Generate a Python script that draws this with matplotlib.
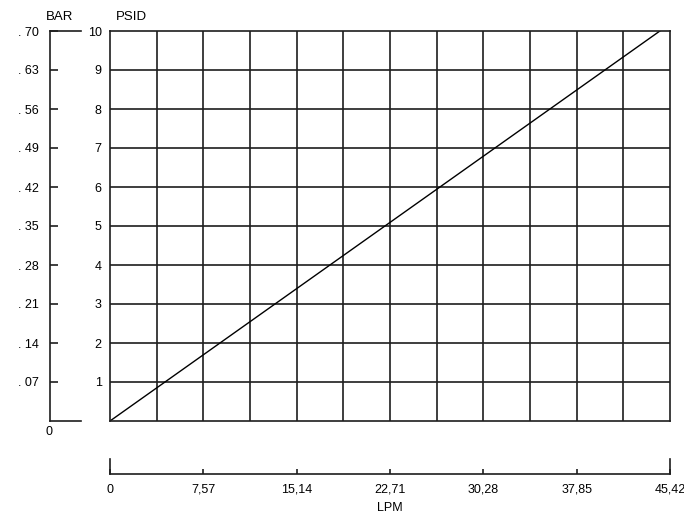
import matplotlib
matplotlib.use("Agg")
import numpy as np
from matplotlib import pyplot as plt

plt.rcParams["font.family"] = ["Liberation Sans", "DejaVu Sans"]
plt.rcParams["font.size"] = 9

# data
lpm_line = [0, 44.6]
psid_line = [0, 10]
psid_ticks = [1, 2, 3, 4, 5, 6, 7, 8, 9, 10]
bar_ticks = [0.07, 0.14, 0.21, 0.28, 0.35, 0.42, 0.49, 0.56, 0.63, 0.70]
bar_labels = [". 07", ". 14", ". 21", ". 28", ". 35", ". 42", ". 49", ". 56", ". 63", ". 70"]
lpm_ticks = [0, 7.57, 15.14, 22.71, 30.28, 37.85, 45.42]
lpm_labels = ["0", "7,57", "15,14", "22,71", "30,28", "37,85", "45,42"]
lpm_grid = [3.785 * i for i in range(1, 12)]  # 1 GPM steps

W, H = 684, 514
fig = plt.figure(figsize=(W / 100, H / 100), dpi=100)


def box(x0, y0, x1, y1):
    # pixel box (top-left origin) -> figure fraction
    return [x0 / W, 1 - y1 / H, (x1 - x0) / W, (y1 - y0) / H]


dark = "#1e1e1e"

# main grid
ax = fig.add_axes(box(110, 31, 670, 421))
ax.set_xlim(0, 45.42)
ax.set_ylim(0, 10)
for x in lpm_grid:
    ax.axvline(x, color=dark, lw=1.2)
for y in psid_ticks[:-1]:
    ax.axhline(y, color=dark, lw=1.2)
for s in ax.spines.values():
    s.set_color(dark)
    s.set_linewidth(1.2)
ax.plot(lpm_line, psid_line, color="black", lw=1.0)
ax.set_xticks([])
ax.set_yticks(psid_ticks)
ax.set_yticklabels([str(t) for t in psid_ticks])
ax.tick_params(axis="y", length=0, pad=6)

# BAR scale
axb = fig.add_axes(box(50, 31, 81, 421))
axb.set_ylim(0, 0.70)
axb.set_xlim(0, 1)
axb.spines["right"].set_visible(False)
for k in ["left", "top", "bottom"]:
    axb.spines[k].set_color(dark)
    axb.spines[k].set_linewidth(1.2)
axb.patch.set_alpha(0)
axb.set_xticks([])
axb.set_yticks(bar_ticks)
axb.set_yticklabels(bar_labels)
axb.tick_params(axis="y", direction="in", length=5.5, width=1.2, color=dark, pad=8)

# LPM scale
axl = fig.add_axes(box(110, 459, 670, 474))
axl.set_xlim(0, 45.42)
axl.set_ylim(0, 1)
axl.spines["top"].set_visible(False)
for k in ["left", "right", "bottom"]:
    axl.spines[k].set_color(dark)
    axl.spines[k].set_linewidth(1.2)
axl.patch.set_alpha(0)
axl.set_yticks([])
axl.set_xticks(lpm_ticks)
axl.set_xticklabels(lpm_labels)
axl.tick_params(axis="x", direction="in", length=3.6, width=1.2, color=dark, pad=7)

fig.text(60 / W, 1 - 17 / H, "BAR", ha="center", va="center", fontsize=9.5)
fig.text(131 / W, 1 - 17 / H, "PSID", ha="center", va="center", fontsize=9.5)
fig.text(49.5 / W, 1 - 432 / H, "0", ha="center", va="center")
fig.text(390 / W, 1 - 508 / H, "LPM", ha="center", va="center")

fig.savefig("out.png", dpi=100)
